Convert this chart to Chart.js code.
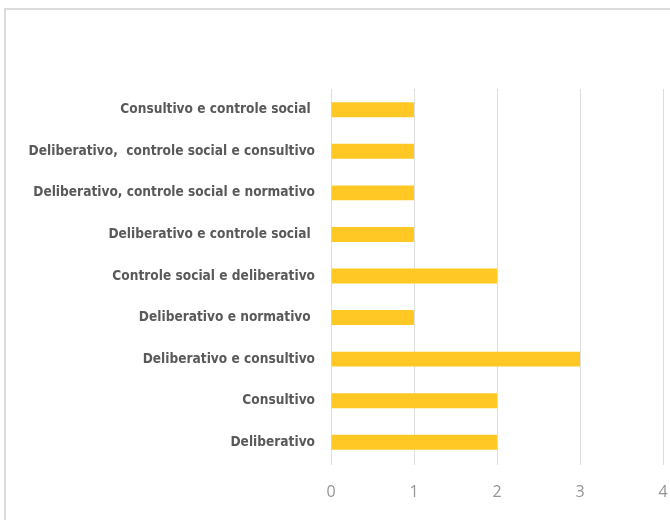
<!DOCTYPE html>
<html>
<head>
<meta charset="utf-8">
<script src="https://cdn.jsdelivr.net/npm/chart.js@4"></script>
<style>
  html, body { margin: 0; padding: 0; background: #fff; overflow: hidden; }
  #frame {
    position: absolute; left: 4px; top: 8px;
    width: 700px; height: 540px;
    border: 2px solid #dcdcdc;
    background: #fff;
  }
</style>
</head>
<body>
<div id="frame"><canvas id="chart" width="700" height="540"></canvas></div>
<script>
// Categories as listed in the chart, top to bottom
const categories = [
  "Consultivo e controle social ",
  "Deliberativo,  controle social e consultivo",
  "Deliberativo, controle social e normativo",
  "Deliberativo e controle social ",
  "Controle social e deliberativo",
  "Deliberativo e normativo ",
  "Deliberativo e consultivo",
  "Consultivo",
  "Deliberativo"
];
const counts = [1, 1, 1, 1, 2, 1, 3, 2, 2];
const xTicks = [0, 1, 2, 3, 4];

const ctx = document.getElementById("chart").getContext("2d");
new Chart(ctx, {
  type: "bar",
  data: {
    labels: categories,
    datasets: [{
      data: counts,
      backgroundColor: "#ffc824",
      borderWidth: 0,
      barPercentage: 0.6,
      categoryPercentage: 0.6
    }]
  },
  options: {
    indexAxis: "y",
    responsive: false,
    animation: false,
    layout: { padding: { top: 79, bottom: 37, left: 0, right: 43 } },
    plugins: { legend: { display: false }, tooltip: { enabled: false } },
    scales: {
      x: {
        min: 0,
        max: 4,
        afterBuildTicks: (scale) => { scale.ticks = xTicks.map(v => ({ value: v })); },
        afterFit: (scale) => { scale.height = 50; },
        grid: { color: "#dedede", lineWidth: 1, drawTicks: true, tickLength: 2 },
        border: { display: false },
        ticks: {
          padding: 18,
          color: "#959595",
          font: { family: "'Open Sans', sans-serif", size: 16 }
        }
      },
      y: {
        afterFit: (scale) => { scale.width = 325; },
        grid: { display: false, drawTicks: false },
        border: { display: false },
        ticks: {
          padding: 16,
          color: "#595959",
          font: { family: "'Liberation Sans Narrow', 'DejaVu Sans Condensed', sans-serif", size: 13.6, weight: "bold" }
        }
      }
    }
  }
});
</script>
</body>
</html>
